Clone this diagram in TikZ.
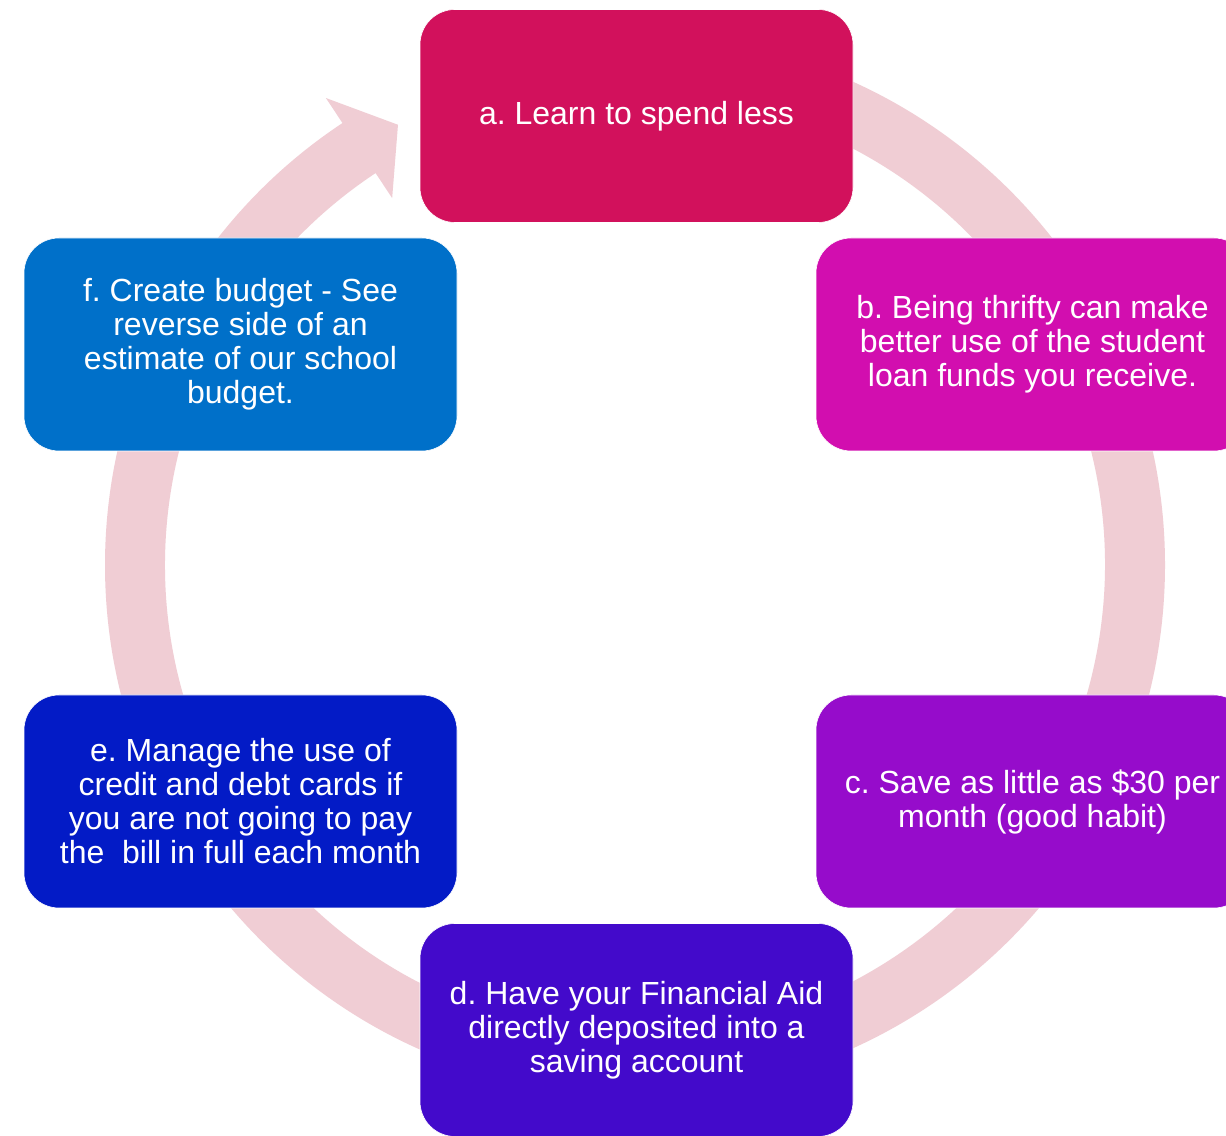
\documentclass[tikz,border=0pt]{standalone}
\usepackage{fontspec}
\setmainfont{Liberation Sans}
\usetikzlibrary{calc}
\definecolor{ringc}{RGB}{240,205,212}
\definecolor{ca}{RGB}{210,17,92}
\definecolor{cb}{RGB}{210,14,175}
\definecolor{cc}{RGB}{150,12,203}
\definecolor{cd}{RGB}{67,10,203}
\definecolor{ce}{RGB}{3,27,198}
\definecolor{cf}{RGB}{0,112,201}
\frenchspacing
\begin{document}
\begin{tikzpicture}[x=1pt,y=1pt,
  box/.style={rounded corners=35pt, minimum width=433pt, minimum height=213pt,
    inner sep=0pt, align=center, text=white, draw=white, line width=0.6pt,
    font=\fontsize{32}{34}\selectfont\frenchspacing}]
\useasboundingbox (0,0) rectangle (1226,1135);
\clip (0,0) rectangle (1226,1135);
\fill[white] (0,0) rectangle (1226,1135);
\coordinate (C) at (635,570);
% ring arrow
\fill[ringc] ($(C)+(90:530)$) arc[start angle=90, end angle=-236.5, radius=530]
  -- ($(C)+(123.5:560)$) -- ($(C)+(118.3:500)$) -- ($(C)+(123.5:440)$)
  -- ($(C)+(123.5:470)$) arc[start angle=-236.5, end angle=90, radius=470] -- cycle;
% boxes
\node[box, fill=ca] (a) at (636.5,1019) {a. Learn to spend less};
\node[box, fill=cb] (b) at (1032.5,790.5) {b. Being thrifty can make\\better use of the student\\loan funds you receive.};
\node[box, fill=cc] (c) at (1032.5,333.5) {c. Save as little as \$30 per\\month (good habit)};
\node[box, fill=cd] (d) at (636.5,105) {d. Have your Financial Aid\\directly deposited into a\\saving account};
\node[box, fill=ce] (e) at (240.5,333.5) {e. Manage the use of\\credit and debt cards if\\you are not going to pay\\the\ \ bill in full each month};
\node[box, fill=cf] (f) at (240.5,790.5) {f. Create budget - See\\reverse side of an\\estimate of our school\\budget.};
\end{tikzpicture}
\end{document}
